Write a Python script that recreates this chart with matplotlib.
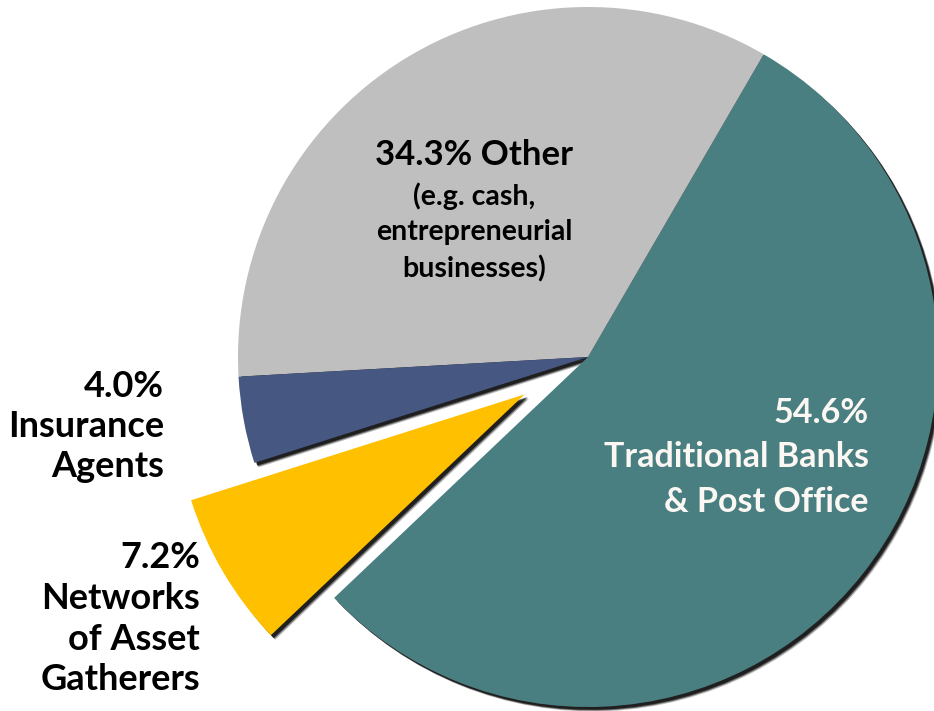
import matplotlib
matplotlib.use("Agg")
import matplotlib.pyplot as plt
from matplotlib.patches import Shadow

plt.rcParams['font.family'] = ['Lato', 'DejaVu Sans']

# share of household savings by channel
channels = ["Traditional Banks\n& Post Office", "Other", "Insurance\nAgents",
            "Networks\nof Asset\nGatherers"]
shares = [54.6, 34.3, 4.0, 7.2]
colors = ["#4a7f82", "#bfbfbf", "#465781", "#ffc000"]
pulled = [0, 0, 0, 0.21]

W, H = 934, 711
R = 350


def img(x, y):
    # work in pixel coordinates with the origin at the top-left corner
    return x, H - y


fig = plt.figure(figsize=(W / 100, H / 100), dpi=100)
ax = fig.add_axes([0, 0, 1, 1])

# pie's explode is in data units, so scale it by the radius
wedges, _ = ax.pie(shares, colors=colors, explode=[p * R for p in pulled],
                   startangle=223.5, counterclock=True, radius=R,
                   center=img(588, 357), wedgeprops=dict(linewidth=0))

# soft dark drop shadow down-right of every slice
for w in wedges:
    for off, a in [(3.2, 0.25), (2.6, 0.45), (2.0, 0.7)]:
        ax.add_patch(Shadow(w, off, -off, shade=1.0, alpha=a))

ax.set_xlim(0, W)
ax.set_ylim(0, H)
ax.set_aspect('equal')
ax.axis('off')

big = 26

ax.text(*img(164, 370), "4.0%\n" + channels[2], ha='right', va='top',
        ma='right', fontsize=big, color='black', fontweight='bold',
        linespacing=1.26)
ax.text(*img(200, 541), "7.2%\n" + channels[3], ha='right', va='top',
        ma='right', fontsize=big, color='black', fontweight='bold',
        linespacing=1.29)
ax.text(*img(869, 397), "54.6%\n" + channels[0], ha='right', va='top',
        ma='right', fontsize=24.5, color='#fbf7f3', linespacing=1.48,
        fontweight='bold')

ax.text(*img(474, 165), "34.3% " + channels[1], ha='center', va='baseline',
        fontsize=25, color='black', fontweight='bold')
ax.text(*img(474, 182), "(e.g. cash,\nentrepreneurial\nbusinesses)",
        ha='center', va='top', ma='center', fontsize=20.5, color='black',
        fontweight='bold', linespacing=1.45)

fig.savefig("out.png", dpi=100)
